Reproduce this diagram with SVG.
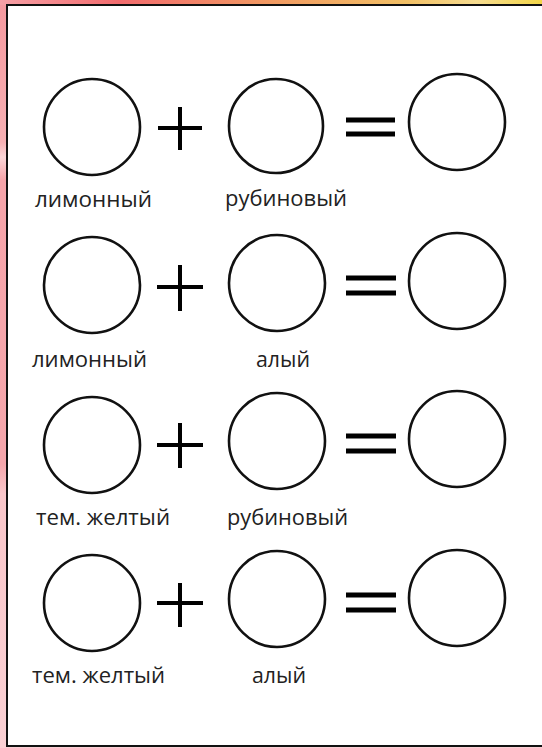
<svg xmlns="http://www.w3.org/2000/svg" width="542" height="748" viewBox="0 0 542 748">
<defs>
<linearGradient id="topg" x1="0" y1="0" x2="1" y2="0">
<stop offset="0" stop-color="#f6a0a6"/>
<stop offset="0.22" stop-color="#f26c6e"/>
<stop offset="0.5" stop-color="#f19a62"/>
<stop offset="0.75" stop-color="#f2c066"/>
<stop offset="0.88" stop-color="#f6dc90"/>
<stop offset="1" stop-color="#f3d648"/>
</linearGradient>
<linearGradient id="leftg" x1="0" y1="0" x2="0" y2="1">
<stop offset="0" stop-color="#f5989e"/>
<stop offset="0.19" stop-color="#f7b0b4"/>
<stop offset="0.21" stop-color="#fbd6d8"/>
<stop offset="0.24" stop-color="#f6a4aa"/>
<stop offset="0.62" stop-color="#f5a6ac"/>
<stop offset="0.66" stop-color="#f9c6ca"/>
<stop offset="1" stop-color="#fad0d4"/>
</linearGradient>
<style>
.c{fill:none;stroke:#111;stroke-width:2.6}
.op{stroke:#000;stroke-width:4;fill:none}
.eq{stroke:#000;stroke-width:5;fill:none}
.t{font-family:"Open Sans","Noto Sans","DejaVu Sans",sans-serif;font-size:21px;fill:#222}
</style>
</defs>
<rect x="0" y="0" width="542" height="748" fill="url(#leftg)"/>
<rect x="0" y="0" width="542" height="5" fill="url(#topg)"/>
<rect x="7" y="5" width="545" height="741" fill="#fff" stroke="#111" stroke-width="2"/>

<g id="row1">
<g id="r1c1"><circle class="c" cx="92" cy="127" r="48"/></g>
<g id="r1plus"><path class="op" d="M158 128H202M180 107V150"/></g>
<g id="r1c2"><circle class="c" cx="276" cy="126" r="47"/></g>
<g id="r1eq"><path class="eq" d="M346 120H395M346 134H395"/></g>
<g id="r1c3"><circle class="c" cx="457" cy="122" r="48"/></g>
<text class="t" x="35" y="207" textLength="117" lengthAdjust="spacingAndGlyphs">лимонный</text>
<text class="t" x="225" y="206" textLength="122" lengthAdjust="spacingAndGlyphs">рубиновый</text>
</g>

<g id="row2">
<g id="r2c1"><circle class="c" cx="92" cy="285" r="48"/></g>
<g id="r2plus"><path class="op" d="M157 287H203M180 265V311"/></g>
<g id="r2c2"><circle class="c" cx="277" cy="283" r="48"/></g>
<g id="r2eq"><path class="eq" d="M346 278H396M346 293H396"/></g>
<g id="r2c3"><circle class="c" cx="457" cy="281" r="48"/></g>
<text class="t" x="32" y="367" textLength="115" lengthAdjust="spacingAndGlyphs">лимонный</text>
<text class="t" x="256" y="367" textLength="54" lengthAdjust="spacingAndGlyphs">алый</text>
</g>

<g id="row3">
<g id="r3c1"><circle class="c" cx="92" cy="445" r="48"/></g>
<g id="r3plus"><path class="op" d="M157 445H203M180 423V468"/></g>
<g id="r3c2"><circle class="c" cx="277" cy="441" r="48"/></g>
<g id="r3eq"><path class="eq" d="M346 436H396M346 451H396"/></g>
<g id="r3c3"><circle class="c" cx="457" cy="439" r="48"/></g>
<text class="t" x="36" y="525" textLength="134" lengthAdjust="spacingAndGlyphs">тем. желтый</text>
<text class="t" x="227" y="525" textLength="121" lengthAdjust="spacingAndGlyphs">рубиновый</text>
</g>

<g id="row4">
<g id="r4c1"><circle class="c" cx="92" cy="603" r="48"/></g>
<g id="r4plus"><path class="op" d="M157 603H203M180 583V627"/></g>
<g id="r4c2"><circle class="c" cx="277" cy="599" r="48"/></g>
<g id="r4eq"><path class="eq" d="M346 595H396M346 610H396"/></g>
<g id="r4c3"><circle class="c" cx="457" cy="598" r="48"/></g>
<text class="t" x="32" y="683" textLength="133" lengthAdjust="spacingAndGlyphs">тем. желтый</text>
<text class="t" x="252" y="683" textLength="54" lengthAdjust="spacingAndGlyphs">алый</text>
</g>
<g id="connectors"/>
</svg>
